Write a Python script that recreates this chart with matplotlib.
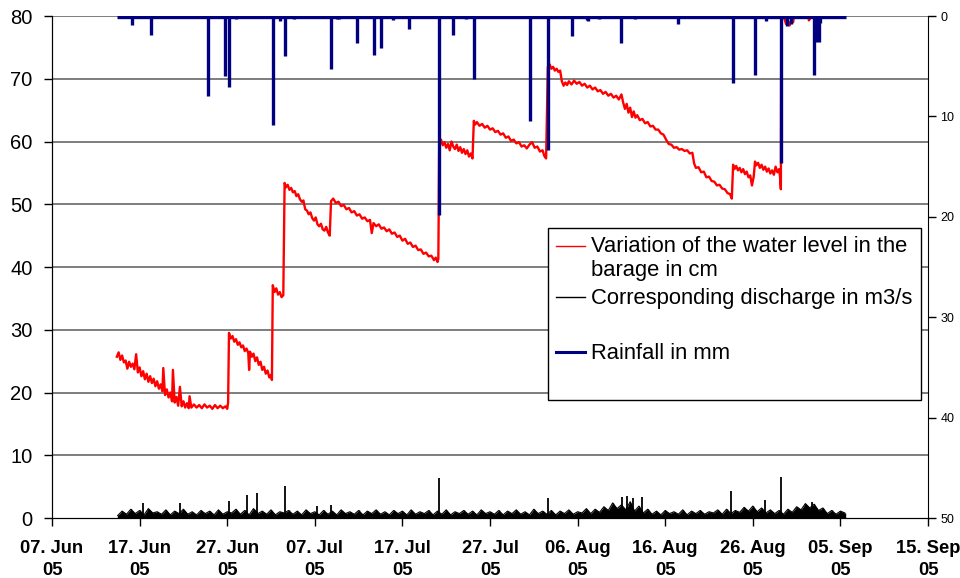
import numpy as np
import matplotlib
matplotlib.use("Agg")
import matplotlib.pyplot as plt
from matplotlib.lines import Line2D
from matplotlib.legend_handler import HandlerLine2D

plt.rcParams['font.family'] = ['Liberation Sans', 'DejaVu Sans']

# x axis: days counted from 07 Jun 2005
tick_days = [0, 10, 20, 30, 40, 50, 60, 70, 80, 90, 100]
tick_labels = ['07. Jun\n05', '17. Jun\n05', '27. Jun\n05', '07. Jul\n05',
               '17. Jul\n05', '27. Jul\n05', '06. Aug\n05', '16. Aug\n05',
               '26. Aug\n05', '05. Sep\n05', '15. Sep\n05']

# water level in the barage (cm)
level_days = [
    7.4, 7.6, 7.8, 8.0, 8.2, 8.4, 8.6, 8.8, 9.0, 9.2, 9.4, 9.6, 9.8, 10.0, 10.2,
    10.4, 10.6, 10.8, 11.0, 11.2, 11.4, 11.6, 11.8, 12.0, 12.2, 12.4, 12.6, 12.7,
    12.9, 13.1, 13.3, 13.5, 13.7, 13.8, 14.0, 14.2, 14.4, 14.6, 14.8, 15.0, 15.2,
    15.4, 15.6, 15.7, 15.9, 16.2, 16.5, 16.8, 17.1, 17.4, 17.7, 18.0, 18.3, 18.6,
    18.9, 19.2, 19.5, 19.8, 20.0, 20.1,
    20.2, 20.4, 20.6, 20.8, 21.0, 21.2, 21.4, 21.6, 21.8, 22.0, 22.2, 22.4, 22.5,
    22.6, 22.8, 23.0, 23.2, 23.4, 23.6, 23.8, 24.0, 24.2, 24.4, 24.6, 24.8, 25.0,
    25.1,
    25.2, 25.4, 25.6, 25.8, 26.0, 26.2, 26.4,
    26.55, 26.7, 26.9, 27.1, 27.3, 27.5, 27.7, 27.9, 28.1, 28.3, 28.5, 28.7, 28.9,
    29.1, 29.3, 29.5, 29.7, 29.9, 30.1, 30.3, 30.5, 30.7, 30.9, 31.1, 31.3, 31.5,
    31.7,
    31.85, 32.1, 32.4, 32.7, 33.0, 33.3, 33.6, 33.9, 34.2, 34.5, 34.8, 35.1, 35.4,
    35.7, 36.0, 36.3, 36.5, 36.7, 37.0, 37.3, 37.6, 37.9, 38.2, 38.5, 38.8, 39.1,
    39.4, 39.7, 40.0, 40.3, 40.6, 40.9, 41.2, 41.5, 41.8, 42.1, 42.4, 42.7, 43.0,
    43.3, 43.6, 43.8, 44.0, 44.1,
    44.2, 44.4, 44.6, 44.8, 45.0, 45.2, 45.4, 45.6, 45.8, 46.0, 46.2, 46.4, 46.6,
    46.8, 47.0, 47.2, 47.4, 47.6, 47.8, 48.0,
    48.15, 48.3, 48.5, 48.8, 49.1, 49.4, 49.7, 50.0, 50.3, 50.6, 50.9, 51.2, 51.5,
    51.8, 52.1, 52.4, 52.7, 53.0, 53.3, 53.6, 53.9, 54.2, 54.5, 54.8, 55.1, 55.4,
    55.7, 56.0, 56.2, 56.4,
    56.6, 56.8, 57.0, 57.2, 57.4, 57.6, 57.8, 58.0, 58.2, 58.4, 58.6, 58.8, 59.0,
    59.3, 59.6, 59.9, 60.2, 60.5, 60.8, 61.1, 61.4, 61.7, 62.0, 62.3, 62.6, 62.9,
    63.2, 63.5, 63.8, 64.1, 64.4, 64.7, 65.0, 65.2, 65.4, 65.6, 65.8, 66.0, 66.2,
    66.4, 66.6, 66.8, 67.1, 67.4, 67.7, 68.0, 68.3, 68.6, 68.9, 69.2, 69.5, 69.8,
    70.1, 70.4, 70.7, 71.0, 71.3, 71.6, 71.9, 72.2, 72.5, 72.8, 73.1, 73.3, 73.5,
    73.8, 74.1, 74.4, 74.7, 75.0, 75.3, 75.6, 75.9, 76.2, 76.5, 76.8, 77.1, 77.4,
    77.6,
    77.75, 77.9, 78.1, 78.3, 78.5, 78.7, 78.9, 79.1, 79.3, 79.5, 79.7, 79.9, 80.1,
    80.25, 80.4, 80.6, 80.8, 81.0, 81.2, 81.4, 81.6, 81.8, 82.0, 82.2, 82.4, 82.6,
    82.8, 83.0, 83.1, 83.2,
    83.25, 83.5, 83.6, 83.8, 84.0, 84.2, 84.4, 84.6, 84.8, 85.5, 86.2, 86.4, 86.6,
    86.8, 88.0,
]
level_cm = [
    25.7, 26.4, 25.2, 25.9, 24.8, 25.1, 23.8, 24.9, 24.1, 24.6, 23.7, 26.1, 23.2, 24.0, 22.6,
    23.4, 22.1, 23.0, 21.7, 22.6, 21.5, 22.2, 21.0, 21.8, 20.6, 21.3, 20.2, 23.9,
    19.6, 20.5, 19.2, 20.0, 18.6, 23.6, 18.4, 19.3, 17.9, 20.9, 17.8, 18.6, 17.6,
    18.3, 17.5, 19.4, 17.6, 18.1, 17.6, 18.0, 17.5, 18.1, 17.6, 17.9, 17.4, 18.0,
    17.5, 17.9, 17.5, 17.8, 17.4, 18.4,
    29.5, 28.6, 29.0, 28.1, 28.5, 27.6, 28.0, 27.2, 27.5, 26.6, 27.0, 26.3, 23.6,
    26.5, 25.7, 26.2, 25.0, 25.6, 24.4, 24.9, 23.6, 24.1, 23.0, 23.5, 22.4, 22.8,
    22.0,
    37.1, 36.0, 36.6, 35.6, 36.0, 35.2, 35.5,
    53.4, 52.7, 53.1, 52.3, 52.6, 51.9, 52.1, 51.3, 51.6, 50.8, 50.4, 50.6, 49.2,
    49.0, 48.4, 48.7, 47.8, 47.4, 47.9, 46.8, 46.5, 46.9, 46.0, 45.8, 46.4, 45.5,
    45.0,
    50.5, 50.9, 50.2, 50.4, 49.7, 49.9, 49.2, 49.4, 48.7, 48.9, 48.2, 48.4, 47.7,
    47.9, 47.3, 47.5, 45.4, 47.0, 46.5, 46.8, 46.1, 46.3, 45.7, 46.0, 45.3, 45.5,
    44.8, 45.0, 44.2, 44.5, 43.7, 43.9, 43.2, 43.4, 42.7, 42.8, 42.1, 42.3, 41.7,
    41.8, 41.1, 41.5, 40.8, 41.3,
    59.8, 60.3, 59.4, 59.9, 59.0, 59.6, 58.6, 60.0, 59.2, 58.8, 59.5, 58.5, 59.1,
    58.2, 58.8, 58.0, 58.6, 57.6, 58.1, 57.3,
    63.3, 62.7, 63.1, 62.5, 62.8, 62.2, 62.5, 61.9, 62.1, 61.5, 61.7, 61.1, 61.3,
    60.6, 60.8, 60.1, 60.3, 59.7, 59.9, 59.2, 59.4, 58.9, 59.5, 59.9, 59.0, 59.2,
    58.4, 58.6, 57.7, 57.3,
    71.9, 72.3, 71.6, 71.9, 71.3, 71.6, 71.1, 71.3, 69.6, 68.9, 69.4, 69.0, 69.6,
    69.1, 69.7, 69.2, 69.5, 68.9, 69.2, 68.6, 68.9, 68.3, 68.6, 68.0, 68.2, 67.6,
    67.9, 67.3, 67.6, 67.0, 67.3, 66.7, 67.5, 66.2, 65.2, 66.0, 64.6, 65.4, 63.9,
    64.8, 63.8, 64.2, 63.4, 63.6, 62.9, 63.1, 62.4, 62.5, 61.9, 61.9, 61.3, 61.1,
    60.3, 59.6, 59.5, 59.0, 59.1, 58.7, 58.8, 58.5, 58.6, 58.1, 58.2, 56.5, 55.8,
    55.9, 55.1, 55.2, 54.3, 54.4, 53.7, 53.6, 53.0, 53.1, 52.5, 52.4, 51.8, 51.6,
    50.9,
    56.3, 55.6, 56.1, 55.4, 55.8, 55.1, 55.6, 54.8, 55.2, 54.3, 54.6, 53.0, 54.4,
    56.8, 56.2, 56.6, 55.8, 56.3, 55.5, 56.0, 55.2, 55.7, 54.9, 55.4, 54.7, 56.0,
    55.1, 55.6, 54.4, 52.4,
    81.5, 81.0, 79.6, 78.7, 79.3, 78.5, 79.4, 79.0, 81.0, 81.5, 80.8, 79.3, 79.7,
    81.0, 82.0,
]

# discharge (m3/s), half-day readings from 14.5 Jun
q_start, q_step = 7.5, 0.5
discharge = [
    0.4, 1.1, 0.6, 1.4, 0.7, 1.2, 0.5, 1.5, 0.8, 1.0,
    0.6, 1.3, 0.5, 1.1, 0.7, 1.4, 0.6, 1.0, 0.5, 1.2,
    0.7, 1.1, 0.5, 1.3, 0.6, 1.0, 0.8, 1.4, 0.6, 1.2,
    0.5, 1.5, 0.7, 1.1, 0.6, 1.3, 0.5, 1.0, 0.8, 1.2,
    0.6, 1.1, 0.5, 1.3, 0.7, 1.0, 0.5, 1.2, 0.6, 1.1,
    0.5, 1.3, 0.7, 1.0, 0.6, 1.2, 0.5, 1.1, 0.7, 1.3,
    0.6, 1.0, 0.5, 1.2, 0.7, 1.1, 0.5, 1.3, 0.6, 1.0,
    0.7, 1.2, 0.5, 1.1, 0.6, 1.3, 0.5, 1.0, 0.7, 1.2,
    0.6, 1.1, 0.5, 1.3, 0.7, 1.0, 0.6, 1.2, 0.5, 1.1,
    0.7, 1.3, 0.6, 1.0, 0.5, 1.4, 0.7, 1.1, 0.6, 1.2,
    0.5, 1.1, 0.7, 1.3, 0.6, 1.0, 0.8, 1.5, 0.7, 1.4,
    0.9, 1.8, 1.2, 2.4, 1.5, 2.1, 1.3, 2.6, 1.1, 1.9,
    0.8, 1.4, 0.6, 1.1, 0.5, 1.2, 0.7, 1.0, 0.6, 1.3,
    0.5, 1.1, 0.7, 1.2, 0.6, 1.0, 0.8, 1.3, 0.6, 1.4,
    0.7, 1.2, 0.9, 1.7, 1.1, 1.9, 1.0, 1.6, 0.8, 1.3,
    0.7, 1.2, 0.6, 1.4, 0.9, 1.8, 1.3, 2.3, 1.6, 2.2,
    1.2, 1.6, 0.7, 1.2, 0.6, 1.1, 0.8,
]
# short discharge peaks
q_peak_days = [10.4, 14.6, 20.2, 22.3, 23.4, 26.6, 30.3, 31.8, 44.2, 56.6,
               65.1, 65.6, 66.3, 67.4, 77.5, 81.4, 83.2, 86.8]
q_peak_vals = [2.4, 2.4, 2.7, 3.7, 4.0, 5.1, 1.9, 2.1, 6.4, 3.2,
               3.3, 3.5, 3.2, 3.4, 4.3, 2.9, 6.5, 2.6]

# rainfall events (mm)
rain_first, rain_last = 7.4, 90.6
rain_days = [9.1, 11.3, 17.8, 19.8, 20.2, 21.0, 25.2, 26.0, 26.6, 27.6, 31.8,
             32.5, 32.8, 34.8, 36.7, 37.5, 38.9, 40.7, 42.3, 44.2, 45.8, 47.3,
             48.2, 54.6, 56.6, 59.3, 61.1, 61.2, 62.4, 65.0, 66.6, 68.2, 71.5,
             72.2, 77.7, 80.3, 81.5, 83.2, 83.9, 84.4, 87.0, 87.2, 87.5, 87.7]
rain_mm = [0.9, 1.9, 8.0, 6.0, 7.1, 0.3, 10.9, 0.5, 4.0, 0.3, 5.3,
           0.3, 0.3, 2.7, 3.9, 3.2, 0.4, 1.3, 0.2, 19.8, 1.9, 0.3,
           6.3, 10.5, 13.3, 2.0, 0.4, 0.5, 0.3, 2.7, 0.3, 0.2, 0.8,
           0.2, 6.7, 5.9, 0.5, 14.6, 1.0, 0.8, 5.9, 2.6, 2.6, 0.7]

red = '#ff0000'
navy = '#000080'


class FirstLineHandler(HandlerLine2D):
    # put the legend line level with the first line of a two-line label
    def create_artists(self, legend, orig_handle, xdescent, ydescent,
                       width, height, fontsize, trans):
        arts = super().create_artists(legend, orig_handle, xdescent, ydescent,
                                      width, height, fontsize, trans)
        for a in arts:
            a.set_ydata(np.asarray(a.get_ydata()) + 0.64 * fontsize)
        return arts


fig = plt.figure(figsize=(9.6, 5.78), dpi=100)
ax = fig.add_axes([0.0542, 0.1038, 0.9125, 0.8685])
ax.set_xlim(0, 100)
ax.set_ylim(0, 80)

# horizontal grid
for v in range(10, 81, 10):
    ax.axhline(v, color='#5a5a5a', lw=1.1, zorder=0)

q_days = q_start + q_step * np.arange(len(discharge))
ax.fill_between(q_days, 0, discharge, color='black', lw=0, zorder=2)
ax.plot(q_days, discharge, color='black', lw=0.8, zorder=2)
ax.vlines(q_days, 0, discharge, color='black', lw=1.0, zorder=2)
ax.vlines(q_peak_days, 0, q_peak_vals, color='black', lw=1.3, zorder=2)

ax.plot(level_days, level_cm, color=red, lw=1.7, zorder=3)

ax.set_yticks(range(0, 81, 10))
ax.set_xticks(tick_days)
ax.set_xticklabels(tick_labels, fontweight='bold', fontsize=13.2, linespacing=1.4)
ax.tick_params(axis='y', direction='out', length=6, width=1, labelsize=14.5, pad=8)
ax.tick_params(axis='x', direction='out', length=6, width=1, pad=10)
ax.spines['top'].set_visible(False)
ax.spines['right'].set_visible(False)

# rainfall on the reversed right axis
ax2 = ax.twinx()
ax2.set_ylim(50, 0)
ax2.set_yticks(range(0, 51, 10))
ax2.tick_params(axis='y', direction='out', length=6, width=1, labelsize=9, pad=3)
ax2.spines['top'].set_visible(False)
ax2.hlines(0.12, rain_first, rain_last, color=navy, lw=2.4)
ax2.vlines(rain_days, 0, rain_mm, color=navy, lw=2.4)

level_handle = Line2D([], [], color=red, lw=1)
handles = [level_handle,
           Line2D([], [], color='black', lw=1),
           Line2D([], [], color='none'),
           Line2D([], [], color=navy, lw=2.2),
           Line2D([], [], color='none')]
labels = ['Variation of the water level in the\nbarage in cm',
          'Corresponding discharge in m3/s', '', 'Rainfall in mm', '']
leg = ax2.legend(handles, labels, loc='upper left', bbox_to_anchor=(0.566, 0.578),
                 fontsize=15.8, frameon=True, fancybox=False, edgecolor='black',
                 framealpha=1, borderpad=0.38, labelspacing=0.3, handlelength=1.3,
                 handleheight=0.5, handletextpad=0.3, borderaxespad=0,
                 handler_map={level_handle: FirstLineHandler()})
leg.get_frame().set_linewidth(1)

fig.savefig('out.png', dpi=100)
